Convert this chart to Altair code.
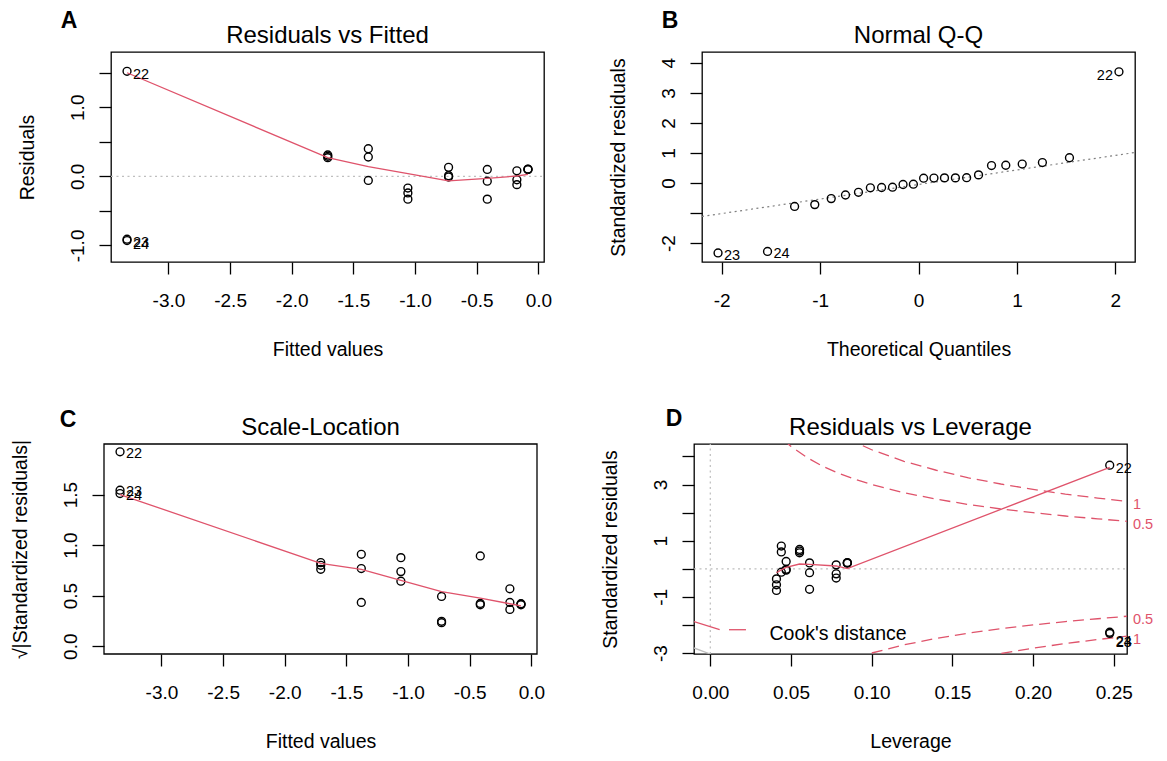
import altair as alt
import pandas as pd

FONT = "Liberation Sans"
RED = "#DF536B"
W, H = 433, 210
SHIFT = 7  # bottom row of the reference sits 7 px left of the top row

# ---------------- data ----------------
panel_letters = ["A", "B", "C", "D"]
panel_titles = ["Residuals vs Fitted", "Normal Q-Q", "Scale-Location", "Residuals vs Leverage"]

obs_id = ["22", "23", "24"] + [""] * 21

# Panel A: Residuals vs Fitted
a_fitted = [-3.336, -3.336, -3.336, -1.708, -1.708, -1.708, -1.379, -1.379, -1.379,
            -1.058, -1.058, -1.058, -0.728, -0.728, -0.728, -0.414, -0.414, -0.414,
            -0.174, -0.174, -0.174, -0.084, -0.084, -0.084]
a_resid = [1.52, -0.91, -0.93, 0.31, 0.29, 0.27, 0.40, 0.28, -0.06,
           -0.17, -0.24, -0.33, 0.13, 0.01, -0.01, 0.10, -0.07, -0.33,
           0.08, -0.05, -0.12, 0.10, 0.10, 0.105]
a_smooth_x = [-3.336, -1.708, -1.379, -1.058, -0.728, -0.414, -0.174, -0.084]
a_smooth_y = [1.50, 0.27, 0.14, 0.04, -0.065, -0.03, 0.005, 0.03]

# Panel B: Normal Q-Q
b_theoretical = [-2.037, -1.534, -1.259, -1.054, -0.887, -0.742, -0.610, -0.489,
                 -0.375, -0.264, -0.157, -0.052, 0.052, 0.157, 0.264, 0.375,
                 0.489, 0.610, 0.742, 0.887, 1.054, 1.259, 1.534, 2.037]
b_sample = [-2.33, -2.28, -0.78, -0.72, -0.52, -0.40, -0.31, -0.16,
            -0.15, -0.14, -0.05, -0.04, 0.16, 0.165, 0.17, 0.17,
            0.175, 0.27, 0.58, 0.59, 0.63, 0.68, 0.84, 3.70]
b_ids = ["23", "24"] + [""] * 21 + ["22"]
b_line_x = [-2.2, 2.2]
b_line_y = [-1.115, 1.015]

# Panel C: Scale-Location
c_fitted = a_fitted
c_sqrt = [1.923, 1.543, 1.510, 0.827, 0.800, 0.761, 0.909, 0.768, 0.433,
          0.876, 0.738, 0.643, 0.492, 0.246, 0.233, 0.893, 0.423, 0.410,
          0.568, 0.433, 0.364, 0.415, 0.410, 0.420]
c_smooth_x = a_smooth_x
c_smooth_y = [1.50, 0.82, 0.76, 0.65, 0.54, 0.475, 0.42, 0.40]

# Panel D: Residuals vs Leverage
d_lev = [0.2475, 0.2475, 0.2475, 0.041, 0.041, 0.041, 0.044, 0.044, 0.044,
         0.047, 0.047, 0.047, 0.0553, 0.0553, 0.0553, 0.0615, 0.0615, 0.0615,
         0.078, 0.078, 0.078, 0.0849, 0.0849, 0.0849]
d_std = [3.69, -2.30, -2.26, -0.36, -0.57, -0.77, 0.81, 0.60, -0.12,
         0.26, -0.02, -0.05, 0.69, 0.63, 0.57, 0.21, -0.14, -0.73,
         0.14, -0.18, -0.33, 0.21, 0.20, 0.22]
d_smooth_x = [0.041, 0.044, 0.047, 0.0553, 0.0615, 0.078, 0.0849, 0.2475]
d_smooth_y = [-0.14, -0.04, 0.05, 0.17, 0.16, 0.10, 0.01, 3.61]
# Cook's distance contours
cook_hi05_x = [0.045, 0.05, 0.06, 0.07, 0.08, 0.09, 0.10, 0.12, 0.14, 0.16, 0.18, 0.20, 0.22, 0.24, 0.2582]
cook_hi05_y = [4.61, 4.36, 3.96, 3.64, 3.39, 3.18, 3.00, 2.71, 2.48, 2.29, 2.13, 2.00, 1.88, 1.78, 1.69]
cook_hi1_x = [0.085, 0.09, 0.10, 0.12, 0.14, 0.16, 0.18, 0.20, 0.22, 0.24, 0.2582]
cook_hi1_y = [4.64, 4.50, 4.24, 3.83, 3.51, 3.24, 3.02, 2.83, 2.66, 2.52, 2.40]
cook_lo05_x = [0.09, 0.10, 0.12, 0.14, 0.16, 0.18, 0.20, 0.22, 0.24, 0.2582]
cook_lo05_y = [-3.18, -3.00, -2.71, -2.48, -2.29, -2.13, -2.00, -1.88, -1.78, -1.69]
cook_lo1_x = [0.17, 0.18, 0.20, 0.22, 0.24, 0.2582]
cook_lo1_y = [-3.125, -3.02, -2.83, -2.66, -2.52, -2.40]
cook_lab_text = ["1", "0.5", "0.5", "1"]
cook_lab_y = [2.26, 1.55, -1.81, -2.52]
legend_solid_x = [-0.0101, 0.0058]
legend_solid_y = [-1.88, -2.17]
legend_dash_x = [0.0116, 0.0221]
legend_dash_y = [-2.17, -2.17]
gray_seg_x = [-0.0101, 0.0]
gray_seg_y = [-2.82, -3.035]

# ---------------- helpers ----------------
MINUS = "\u2212"


def fmt(spec, hide=None):
    base = f"replace(format(datum.value, '{spec}'), '{MINUS}', '-')"
    if hide:
        cond = " || ".join(f"abs(datum.value - ({h})) < 1e-9" for h in hide)
        return f"({cond}) ? '' : {base}"
    return base


AXBASE = dict(domain=False, grid=False, ticks=True, tickColor="black", tickWidth=1.3,
              tickSize=12, labelFont=FONT, labelFontSize=19, labelColor="black",
              titleFont=FONT, titleFontSize=19.5, titleFontWeight="normal",
              titleColor="black", labelOverlap=False, labelFlush=False)


def xenc(domain, values, expr, title, shift=0):
    sc = dict(domain=domain, nice=False, zero=False)
    if shift:
        sc["range"] = [-shift, W - shift]
    return alt.X("x:Q", scale=alt.Scale(**sc),
                 axis=alt.Axis(values=values, labelExpr=expr, title=title,
                               labelPadding=17, titlePadding=30, **AXBASE))


def yenc(domain, values, expr, title, shift=0):
    ax = dict(values=values, labelExpr=expr, title=title, labelAngle=270,
              labelAlign="center", labelBaseline="bottom", labelPadding=12,
              titlePadding=31, **AXBASE)
    if shift:
        ax["offset"] = shift
    return alt.Y("y:Q", scale=alt.Scale(domain=domain, nice=False, zero=False),
                 axis=alt.Axis(**ax))


def points(df, X, Y):
    return alt.Chart(df).mark_point(shape="circle", filled=False, color="black",
                                    size=62, strokeWidth=1.4, opacity=1).encode(x=X, y=Y)


def line(df, X, Y, color=RED, dash=None, width=1.3, clip=False):
    kw = dict(color=color, strokeWidth=width, clip=clip)
    if dash:
        kw["strokeDash"] = dash
    return alt.Chart(df).mark_line(**kw).encode(x=X, y=Y, order="o:Q")


def labels(df, X, Y, align="left", dx=6, dy=4):
    return alt.Chart(df).mark_text(font=FONT, fontSize=14.5, align=align, baseline="middle",
                                   dx=dx, dy=dy, color="black").encode(x=X, y=Y, text="lab:N")


def deco(i, letter_dx, letter_dy, shift=0):
    d = pd.DataFrame({"letter": [panel_letters[i]], "title": [panel_titles[i]]})
    let = alt.Chart(d).mark_text(font=FONT, fontSize=23, fontWeight="bold", align="center",
                                 baseline="alphabetic", color="black").encode(
        x=alt.value(letter_dx - shift), y=alt.value(letter_dy), text="letter:N")
    tit = alt.Chart(d).mark_text(font=FONT, fontSize=24, align="center",
                                 baseline="alphabetic", color="black").encode(
        x=alt.value(W / 2 - shift), y=alt.value(-9.5), text="title:N")
    return [let, tit]


def df_xy(xs, ys, labs=None):
    d = pd.DataFrame({"x": xs, "y": ys, "o": list(range(len(xs)))})
    if labs is not None:
        d["lab"] = labs
    return d


# ---------------- Panel A ----------------
XA = xenc([-3.466, 0.046], [-3, -2.5, -2, -1.5, -1, -0.5, 0], fmt(".1f"), "Fitted values")
YA = yenc([-1.24, 1.80], [-1, -0.5, 0, 0.5, 1, 1.5], fmt(".1f", hide=[1.5, 0.5, -0.5]), "Residuals")
a_pts = df_xy(a_fitted, a_resid, obs_id)
a_lab = a_pts[a_pts["lab"] != ""]
A = alt.layer(
    line(df_xy([-3.466, 0.046], [0, 0]), XA, YA, color="#BEBEBE", dash=[2, 3.5], width=1.2),
    points(a_pts, XA, YA),
    line(df_xy(a_smooth_x, a_smooth_y), XA, YA),
    labels(a_lab, XA, YA),
    *deco(0, -42, -24),
).properties(width=W, height=H)

# ---------------- Panel B ----------------
XB = xenc([-2.2, 2.2], [-2, -1, 0, 1, 2], fmt("d"), "Theoretical Quantiles")
YB = yenc([-2.63, 4.36], [-2, -1, 0, 1, 2, 3, 4], fmt("d", hide=[-1]), "Standardized residuals")
b_pts = df_xy(b_theoretical, b_sample, b_ids)
b_lab_r = b_pts[b_pts["lab"].isin(["23", "24"])]
b_lab_l = b_pts[b_pts["lab"] == "22"]
B = alt.layer(
    line(df_xy(b_line_x, b_line_y), XB, YB, color="#7F7F7F", dash=[2, 3.5], width=1.2),
    points(b_pts, XB, YB),
    labels(b_lab_r, XB, YB, dy=3),
    labels(b_lab_l, XB, YB, align="right", dx=-6, dy=4),
    *deco(1, -32, -24),
).properties(width=W, height=H)

# ---------------- Panel C (drawn 7 px to the left, own frame) ----------------
XC = xenc([-3.466, 0.046], [-3, -2.5, -2, -1.5, -1, -0.5, 0], fmt(".1f"), "Fitted values",
          shift=SHIFT)
YC = yenc([-0.077, 2.0], [0, 0.5, 1, 1.5], fmt(".1f"), "\u221a|Standardized residuals|",
          shift=SHIFT)
c_pts = df_xy(c_fitted, c_sqrt, obs_id)
c_lab = c_pts[c_pts["lab"] != ""]
c_frame = alt.Chart(pd.DataFrame({"f": [0]})).mark_rect(
    fillOpacity=0, stroke="black", strokeWidth=1.3).encode(
    x=alt.value(-SHIFT), x2=alt.value(W - SHIFT), y=alt.value(0), y2=alt.value(H))
C = alt.layer(
    c_frame,
    points(c_pts, XC, YC),
    line(df_xy(c_smooth_x, c_smooth_y), XC, YC),
    labels(c_lab, XC, YC, dy=2),
    *deco(2, -36, -16.7, shift=SHIFT),
).properties(width=W, height=H, view=alt.ViewBackground(strokeOpacity=0))

# ---------------- Panel D ----------------
XD = xenc([-0.0101, 0.2582], [0, 0.05, 0.10, 0.15, 0.20, 0.25], fmt(".2f"), "Leverage")
YD = yenc([-3.035, 4.445], [-3, -2, -1, 0, 1, 2, 3, 4], fmt("d", hide=[4, 2, 0, -2]),
          "Standardized residuals")
d_pts = df_xy(d_lev, d_std, obs_id)
d_lab22 = d_pts[d_pts["lab"] == "22"]
d_lab2324 = d_pts[d_pts["lab"].isin(["23", "24"])]
cook_labs = pd.DataFrame({"x": [0.2582] * 4, "y": cook_lab_y, "lab": cook_lab_text})
legend_txt = pd.DataFrame({"x": [0.0367], "y": [-2.33], "lab": ["Cook's distance"]})
D = alt.layer(
    line(df_xy([-0.0101, 0.2582], [0, 0]), XD, YD, color="#BEBEBE", dash=[2, 3.5], width=1.2),
    line(df_xy([0, 0], [-3.035, 4.445]), XD, YD, color="#BEBEBE", dash=[2, 3.5], width=1.2),
    line(df_xy(gray_seg_x, gray_seg_y), XD, YD, color="#BEBEBE", width=1.3, clip=True),
    line(df_xy(cook_hi05_x, cook_hi05_y), XD, YD, dash=[11, 6], clip=True),
    line(df_xy(cook_hi1_x, cook_hi1_y), XD, YD, dash=[11, 6], clip=True),
    line(df_xy(cook_lo05_x, cook_lo05_y), XD, YD, dash=[11, 6], clip=True),
    line(df_xy(cook_lo1_x, cook_lo1_y), XD, YD, dash=[11, 6], clip=True),
    line(df_xy(legend_solid_x, legend_solid_y), XD, YD, clip=True),
    line(df_xy(legend_dash_x, legend_dash_y), XD, YD),
    points(d_pts, XD, YD),
    line(df_xy(d_smooth_x, d_smooth_y), XD, YD),
    labels(d_lab22, XD, YD, dy=4),
    labels(d_lab2324, XD, YD, dy=10),
    alt.Chart(cook_labs).mark_text(font=FONT, fontSize=14.5, align="left", baseline="middle",
                                   dx=6, color=RED).encode(x=XD, y=YD, text="lab:N"),
    alt.Chart(legend_txt).mark_text(font=FONT, fontSize=19.5, align="left", baseline="middle",
                                    color="black").encode(x=XD, y=YD, text="lab:N"),
    *deco(3, -20, -17.7),
).properties(width=W, height=H)

chart = alt.vconcat(
    alt.hconcat(A, B, spacing=54),
    alt.hconcat(C, D, spacing=54),
    spacing=47,
).properties(
    padding={"left": 2, "top": 1, "right": 5, "bottom": 5},
    background="white",
).configure_view(stroke="black", strokeWidth=1.3)

chart.save("out.html", embed_options={"renderer": "svg", "actions": False})
